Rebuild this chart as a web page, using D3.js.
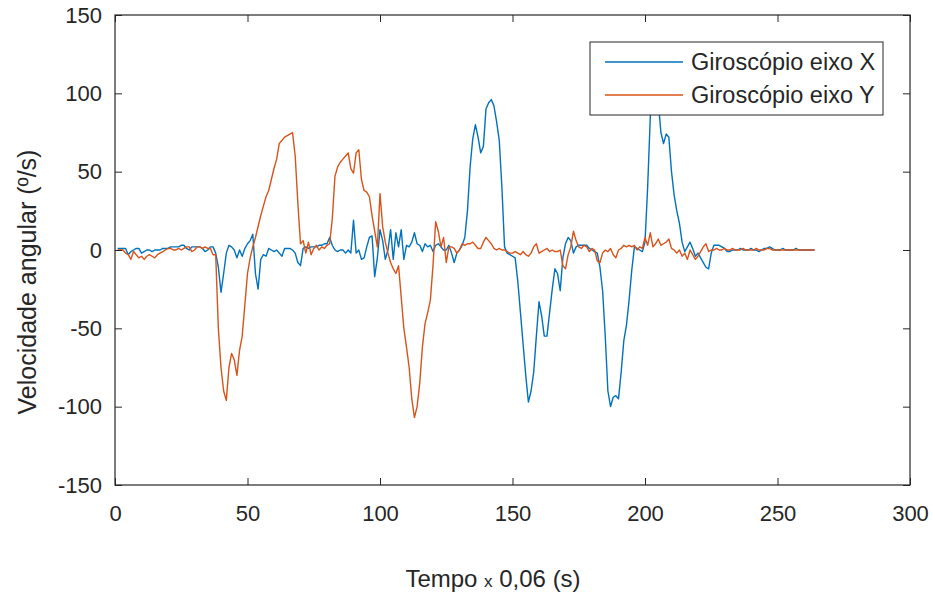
<!DOCTYPE html>
<html>
<head>
<meta charset="utf-8">
</head>
<body style="margin:0;background:#fff">
<style>
    text { font-family: "Liberation Sans", Arial, sans-serif; fill: #262626; }
    .tick line { stroke: #262626; }
    path.serie { fill: none; stroke-width: 1.4px; stroke-linejoin: round; }
</style>
<script src="https://cdn.jsdelivr.net/npm/d3@7"></script>
<script>

    // amostras 1..264
    var amostras = d3.range(1, 265);

    var giroX = [
        1, 1, 1, 1, -3, -1, 0, 1, 1, -2,
        -1, 0, 0, -1, 0, 0, 0, 1, 1, 1,
        2, 2, 2, 2, 3, 3, 1, 0, 2, 2,
        2, 2, 1, -1, 0, 2, 2, -2, -11, -27,
        -15, -2, 3, 2, 0, -5, 0, -4, 1, 4,
        6, 10, -15, -25, -6, -3, -4, 1, 0, -1,
        0, -2, -4, 1, 1, 1, 0, -2, -8, -10,
        1, 2, 1, 2, 2, 2, 3, 3, 4, 4,
        8, 3, 0, -1, 0, 0, -2, 0, -2, 19,
        -2, 0, -6, -5, 2, 8, 9, -17, -5, 13,
        6, -6, 0, 13, -6, 11, 2, 13, -6, 3,
        2, 5, 11, 4, 3, -1, 4, 2, 3, -1,
        3, 4, 2, 0, 0, 3, -2, -8, -2, 0,
        3, 8, 25, 53, 71, 80, 72, 62, 66, 90,
        94, 96, 92, 82, 70, 40, 2, -2, -3, -4,
        -5, -20, -40, -60, -80, -97, -90, -78, -55, -33,
        -42, -55, -55, -40, -25, -12, -15, -26, -5, 4,
        8, 6, -2, 2, 3, 3, 3, 3, 1, 0,
        -1, -2, -11, -26, -55, -90, -100, -94, -93, -95,
        -78, -58, -48, -32, -13, 2, 1, 0, -1, 5,
        40, 85, 105, 108, 95, 75, 68, 74, 72, 50,
        35, 25, 17, 5, -1, 2, 5, 1, -4, -2,
        -5, -8, -11, -12, -2, 3, 3, 3, 2, 1,
        -1, -1, 0, 0, 0, 1, 0, 0, 0, 1,
        0, 0, -1, 0, 1, 1, 2, 1, 0, 0,
        0, 1, 0, 0, 0, 0, 1, 0, 0, 0,
        0, 0, 0, 0
    ];

    var giroY = [
        0, 0, 0, -2, -3, -6, -1, -3, -5, -4,
        -6, -4, -3, -4, -5, -3, -2, -1, 0, 1,
        1, 0, 0, 1, 0, 1, 2, 2, -1, 0,
        2, 2, 1, 2, 1, 1, -3, -3, -50, -75,
        -90, -96, -75, -66, -70, -80, -64, -55, -35, -15,
        -5, 2, 8, 15, 22, 28, 34, 38, 45, 52,
        58, 68, 70, 72, 73, 74, 75, 60, 30, 4,
        6, -2, 5, -3, 1, 3, 0, 2, 1, 3,
        4, 20, 47, 53, 56, 58, 60, 62, 52, 49,
        62, 64, 45, 38, 37, 34, 22, 12, 2, 36,
        15, 5, -2, -8, -12, -15, -10, -30, -50, -62,
        -75, -95, -107, -100, -85, -62, -47, -40, -32, -10,
        18, 12, 2, 8, -8, 2, 2, 1, -2, 0,
        4, 3, 4, 4, 5, 3, 1, 1, 5, 8,
        6, 4, 1, 0, 1, 0, 0, -1, -2, -2,
        -1, -2, -3, -1, -3, -4, -2, 2, 4, -2,
        -1, 0, 1, -1, 0, -1, -1, 0, -10, -12,
        -3, 2, 12, 6, 2, 1, 3, 2, -1, 1,
        0, -7, -8, -2, 0, -1, 1, -3, -5, 0,
        1, 3, 2, 3, 2, 3, 0, 2, 1, 8,
        3, 11, 2, 4, 7, 3, 4, 5, 7, 1,
        0, -2, 0, -4, -2, -6, 0, -3, -6, -4,
        -1, 2, 4, -1, 0, 0, 1, 0, 0, 1,
        0, 0, 1, 0, 0, 0, 1, 0, 0, 0,
        0, 1, 0, 0, 0, 1, 1, 0, 0, 0,
        0, 0, 0, 0, 0, 0, 0, 0, 0, 0,
        0, 0, 0, 0
    ];

    var xTicks = [0, 50, 100, 150, 200, 250, 300];
    var yTicks = [-150, -100, -50, 0, 50, 100, 150];
    var nomes = ["Giroscópio eixo X", "Giroscópio eixo Y"];
    var cores = ["#0072BD", "#D95319"];

    var width = 933, height = 594;
    var m = {left: 115, right: 23, top: 15, bottom: 109};
    var w = width - m.left - m.right;
    var h = height - m.top - m.bottom;

    var svg = d3.select("body").append("svg")
        .attr("width", width)
        .attr("height", height);

    var x = d3.scaleLinear().domain([0, 300]).range([0, w]);
    var y = d3.scaleLinear().domain([-150, 150]).range([h, 0]);

    var g = svg.append("g").attr("transform", "translate(" + m.left + "," + m.top + ")");

    g.append("clipPath").attr("id", "clip")
        .append("rect").attr("width", w).attr("height", h);

    var line = d3.line()
        .x(function (d, i) { return x(amostras[i]); })
        .y(function (d) { return y(d); });

    [giroX, giroY].forEach(function (serie, k) {
        g.append("path")
            .attr("class", "serie")
            .attr("clip-path", "url(#clip)")
            .attr("d", line(serie))
            .style("stroke", cores[k]);
    });

    // eixos (ticks para dentro, estilo MATLAB)
    var tk = 7;
    var fmt = function (d) { return String(d); };
    g.append("g").attr("transform", "translate(0," + h + ")")
        .call(d3.axisBottom(x).tickValues(xTicks).tickSize(-tk).tickPadding(20).tickFormat(fmt))
        .call(function (s) { s.select(".domain").remove(); })
        .selectAll("text").style("font-size", "22px");
    g.append("g")
        .call(d3.axisLeft(y).tickValues(yTicks).tickSize(-tk).tickPadding(13).tickFormat(fmt))
        .call(function (s) { s.select(".domain").remove(); })
        .selectAll("text").style("font-size", "22px");
    g.append("g")
        .call(d3.axisTop(x).tickValues(xTicks).tickSize(-tk).tickFormat(""))
        .call(function (s) { s.select(".domain").remove(); });
    g.append("g").attr("transform", "translate(" + w + ",0)")
        .call(d3.axisRight(y).tickValues(yTicks).tickSize(-tk).tickFormat(""))
        .call(function (s) { s.select(".domain").remove(); });

    g.append("rect")
        .attr("width", w).attr("height", h)
        .style("fill", "none").style("stroke", "#262626").style("stroke-width", 1.2);

    // rótulos
    var xl = svg.append("text")
        .attr("x", 493).attr("y", 587)
        .attr("text-anchor", "middle")
        .style("font-size", "24px");
    xl.append("tspan").text("Tempo ");
    xl.append("tspan").style("font-size", "17px").text("x");
    xl.append("tspan").text(" 0,06 (s)");

    svg.append("text")
        .attr("transform", "translate(36,282) rotate(-90)")
        .attr("text-anchor", "middle")
        .style("font-size", "25px")
        .text("Velocidade angular (º/s)");

    // legenda
    var leg = svg.append("g").attr("transform", "translate(590,42)");
    leg.append("rect")
        .attr("width", 293).attr("height", 73)
        .style("fill", "#fff").style("stroke", "#262626").style("stroke-width", 1);
    nomes.forEach(function (n, k) {
        var yy = 20 + k * 33;
        leg.append("line")
            .attr("x1", 15).attr("x2", 93).attr("y1", yy).attr("y2", yy)
            .style("stroke", cores[k]).style("stroke-width", 1.4);
        leg.append("text")
            .attr("x", 101).attr("y", yy + 8)
            .style("font-size", "23.5px")
            .text(n);
    });

</script>
</body>
</html>
